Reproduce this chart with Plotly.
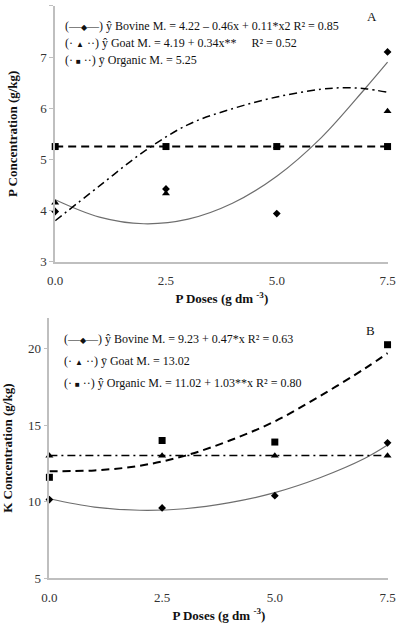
import plotly.graph_objects as go

# ---------------- data ----------------
doses = [0.0, 2.5, 5.0, 7.5]
dose_ticks = [0.0, 2.5, 5.0, 7.5]

# Panel A: P concentration (g/kg)
p_bovine = [3.98, 4.42, 3.94, 7.10]
p_goat = [4.15, 4.33, 5.25, 5.94]
p_organic = [5.25, 5.25, 5.25, 5.25]

fit_x = [0.0, 1.0, 2.0, 3.0, 4.0, 5.0, 6.0, 7.0, 7.5]
p_bovine_fit = [4.21, 3.87, 3.74, 3.83, 4.14, 4.67, 5.42, 6.39, 6.90]
p_goat_fit_x = [0.0, 1.0, 2.0, 3.0, 4.0, 5.0, 6.0, 6.5, 7.0, 7.5]
p_goat_fit = [3.80, 4.48, 5.15, 5.68, 5.99, 6.22, 6.37, 6.40, 6.38, 6.31]
flat_x = [0.0, 7.5]
p_organic_fit = [5.25, 5.25]

# Panel B: K concentration (g/kg)
k_bovine = [10.15, 9.60, 10.40, 13.85]
k_goat = [13.0, 13.0, 13.0, 13.0]
k_organic = [11.6, 14.0, 13.9, 20.25]

k_bovine_fit = [10.20, 9.66, 9.45, 9.55, 9.95, 10.60, 11.57, 12.84, 13.70]
k_goat_fit = [13.02, 13.02]
k_organic_fit = [12.00, 12.05, 12.35, 13.00, 14.00, 15.25, 16.90, 18.70, 19.70]

SYM = "<span style='font-size:8px'>{}</span>"
BOV_KEY = "(\u2014" + SYM.format("\u25c6") + "\u2014)"
GOAT_KEY = "(\u00b7\u00a0" + SYM.format("\u25b2") + "\u00a0\u00b7\u00b7)"
ORG_KEY = "(\u00b7\u00a0" + SYM.format("\u25a0") + "\u00a0\u00b7\u00b7)"

legend_a = [
    BOV_KEY + " \u0177 Bovine M. = 4.22 \u2013 0.46x + 0.11*x2 R\u00b2 = 0.85",
    GOAT_KEY + " \u0177 Goat M. = 4.19 + 0.34x**\u00a0\u00a0\u00a0\u00a0\u00a0R\u00b2 = 0.52",
    ORG_KEY + " \u0233 Organic M. = 5.25",
]
legend_b = [
    BOV_KEY + " \u0177 Bovine M. = 9.23 + 0.47*x R\u00b2 = 0.63",
    GOAT_KEY + " \u0233 Goat M. = 13.02",
    ORG_KEY + " \u0177 Organic M. = 11.02 + 1.03**x R\u00b2 = 0.80",
]

SERIF = "Times New Roman, Liberation Serif, serif"
LINE_GREY = "#bfbfbf"

fig = go.Figure()

def add_panel(xa, ya, bov, goat, org, bov_fit, goat_fx, goat_fit, org_fx, org_fit):
    # trend lines
    fig.add_trace(go.Scatter(x=fit_x, y=bov_fit, mode="lines", line=dict(color="#6e6e6e", width=1.2, shape="spline"),
                             xaxis=xa, yaxis=ya, showlegend=False, hoverinfo="skip"))
    fig.add_trace(go.Scatter(x=goat_fx, y=goat_fit, mode="lines",
                             line=dict(color="black", width=1.5, dash="8px,4px,2px,4px", shape="spline"),
                             xaxis=xa, yaxis=ya, showlegend=False, hoverinfo="skip"))
    fig.add_trace(go.Scatter(x=org_fx, y=org_fit, mode="lines",
                             line=dict(color="black", width=2, dash="8px,5px", shape="spline"),
                             xaxis=xa, yaxis=ya, showlegend=False, hoverinfo="skip"))
    # observed points
    fig.add_trace(go.Scatter(x=doses, y=goat, mode="markers", marker=dict(symbol="triangle-up", size=7, color="black"),
                             xaxis=xa, yaxis=ya, showlegend=False, cliponaxis=False))
    fig.add_trace(go.Scatter(x=doses, y=bov, mode="markers", marker=dict(symbol="diamond", size=6, color="black"),
                             xaxis=xa, yaxis=ya, showlegend=False, cliponaxis=False))
    fig.add_trace(go.Scatter(x=doses, y=org, mode="markers", marker=dict(symbol="square", size=7, color="black"),
                             xaxis=xa, yaxis=ya, showlegend=False, cliponaxis=False))

add_panel("x", "y", p_bovine, p_goat, p_organic, p_bovine_fit, p_goat_fit_x, p_goat_fit, flat_x, p_organic_fit)
add_panel("x2", "y2", k_bovine, k_goat, k_organic, k_bovine_fit, flat_x, k_goat_fit, fit_x, k_organic_fit)

xcommon = dict(range=[0, 7.52], tickvals=dose_ticks, tickformat=".1f", showline=True, linecolor=LINE_GREY,
               linewidth=1.5, showgrid=False, zeroline=False, ticks="outside", ticklen=6, tickcolor="rgba(0,0,0,0)",
               tickfont=dict(family=SERIF, size=13, color="#333"),
               title=dict(text="<b>P Doses (g dm <sup>-3</sup>)</b>", font=dict(family=SERIF, size=13, color="#111"), standoff=7))
ycommon = dict(showline=True, linecolor=LINE_GREY, linewidth=1.5, showgrid=False, zeroline=False,
               ticks="outside", ticklen=4, tickcolor=LINE_GREY, tickfont=dict(family=SERIF, size=13, color="#333"))

fig.update_layout(
    width=404, height=623, autosize=False,
    margin=dict(l=0, r=0, t=0, b=0),
    paper_bgcolor="white", plot_bgcolor="white",
    xaxis=dict(domain=[0.1213, 0.978], anchor="y", **xcommon),
    yaxis=dict(domain=[0.5746, 0.9904], anchor="x", range=[3, 8], dtick=1,
               title=dict(text="<b>P Concentration (g/kg)</b>", font=dict(family=SERIF, size=13, color="#111"), standoff=20),
               **ycommon),
    xaxis2=dict(domain=[0.1064, 0.978], anchor="y2", **xcommon),
    yaxis2=dict(domain=[0.0594, 0.4831], anchor="x2", range=[5, 22], tickvals=[5, 10, 15, 20],
                title=dict(text="<b>K Concentration (g/kg)</b>", font=dict(family=SERIF, size=13, color="#111"), standoff=16),
                **ycommon),
)

annots = []
for i, t in enumerate(legend_a):
    annots.append(dict(text=t, xref="paper", yref="paper", x=57 / 404, y=1 - (26 + 17.5 * i) / 623,
                       xanchor="left", yanchor="middle", showarrow=False,
                       font=dict(family=SERIF, size=12, color="#111")))
for i, t in enumerate(legend_b):
    annots.append(dict(text=t, xref="paper", yref="paper", x=56 / 404, y=1 - (343 + 22.5 * i) / 623,
                       xanchor="left", yanchor="middle", showarrow=False,
                       font=dict(family=SERIF, size=12, color="#111")))
annots.append(dict(text="A", xref="paper", yref="paper", x=378 / 404, y=1 - 17 / 623, showarrow=False,
                   xanchor="center", yanchor="middle", font=dict(family=SERIF, size=13, color="#111")))
annots.append(dict(text="B", xref="paper", yref="paper", x=376 / 404, y=1 - 335 / 623, showarrow=False,
                   xanchor="center", yanchor="middle", font=dict(family=SERIF, size=13, color="#111")))
fig.update_layout(annotations=annots)

fig.write_html("out.html")
